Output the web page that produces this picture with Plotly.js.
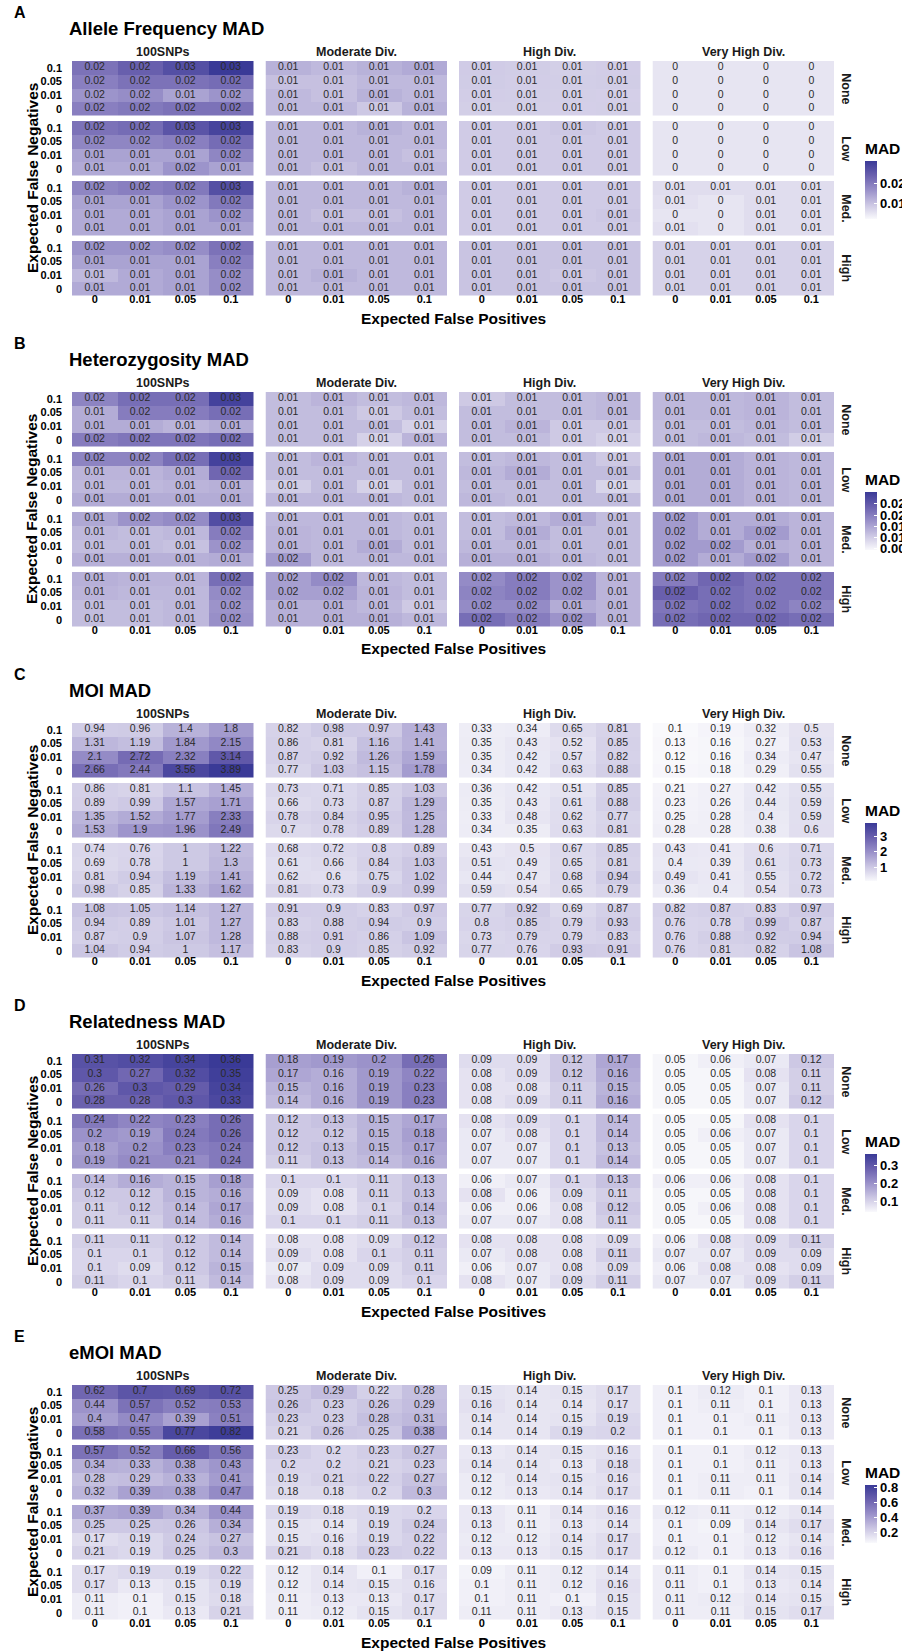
<!DOCTYPE html>
<html><head><meta charset="utf-8">
<script src="https://cdn.plot.ly/plotly-3.0.1.min.js"></script>
<style>html,body{margin:0;padding:0;background:#fff}</style>
</head><body><div id="chart" style="width:902px;height:1652px"></div>
<script>
// ---------- categories ----------
const falsePositives = ["0", "0.01", "0.05", "0.1"];          // x within a facet
const falseNegativesBottomUp = ["0", "0.01", "0.05", "0.1"];  // y within a facet (bottom -> top)
const diversityLevels = ["100SNPs", "Moderate Div.", "High Div.", "Very High Div."];
const noiseLevels = ["None", "Low", "Med.", "High"];
const panelLetters = ["A", "B", "C", "D", "E"];
const panelTitles = ["Allele Frequency MAD", "Heterozygosity MAD", "MOI MAD", "Relatedness MAD", "eMOI MAD"];
const legendTicks = [[0.01, 0.02], [0.005, 0.01, 0.015, 0.02, 0.025], [1, 2, 3], [0.1, 0.2, 0.3], [0.2, 0.4, 0.6, 0.8]];
const legendRanges = [[0.002, 0.031], [0.0044, 0.0303], [0.1, 3.89], [0.045, 0.36], [0.066, 0.836]];

// Each array: 16 rows (noise None, Low, Med., High; each with FN 0.1, 0.05, 0.01, 0 from top)
// x 16 columns (100SNPs, Moderate, High, Very High; each with FP 0, 0.01, 0.05, 0.1)
const alleleFrequencyMAD = [
[0.021,0.024,0.027,0.031, 0.012,0.011,0.012,0.013, 0.0085,0.0083,0.008,0.0082, 0.0048,0.0048,0.0048,0.0048],
[0.019,0.021,0.021,0.022, 0.010,0.010,0.011,0.011, 0.0084,0.0082,0.0081,0.0083, 0.0048,0.0048,0.0048,0.0048],
[0.016,0.017,0.014,0.016, 0.011,0.010,0.012,0.011, 0.0082,0.0081,0.008,0.0079, 0.0048,0.0048,0.0048,0.0048],
[0.019,0.020,0.021,0.021, 0.011,0.011,0.009,0.012, 0.008,0.008,0.0079,0.008, 0.0048,0.0048,0.0048,0.0048],
[0.021,0.022,0.026,0.029, 0.011,0.011,0.012,0.011, 0.0085,0.0085,0.009,0.0085, 0.0048,0.0048,0.0048,0.0048],
[0.018,0.018,0.019,0.022, 0.011,0.011,0.011,0.011, 0.0085,0.0085,0.0085,0.0085, 0.0048,0.0048,0.0048,0.0048],
[0.014,0.014,0.014,0.018, 0.011,0.011,0.011,0.010, 0.0085,0.0085,0.0085,0.0085, 0.0048,0.0048,0.0048,0.0048],
[0.013,0.013,0.016,0.014, 0.011,0.010,0.011,0.011, 0.0085,0.0085,0.0085,0.0085, 0.0048,0.0048,0.0048,0.0048],
[0.018,0.019,0.020,0.027, 0.011,0.011,0.011,0.012, 0.0085,0.0085,0.0085,0.0085, 0.006,0.006,0.006,0.006],
[0.014,0.014,0.016,0.020, 0.011,0.011,0.011,0.011, 0.0085,0.0085,0.0085,0.0085, 0.0055,0.0048,0.006,0.006],
[0.013,0.013,0.014,0.016, 0.011,0.010,0.010,0.011, 0.0085,0.0085,0.0085,0.009, 0.0048,0.0048,0.006,0.006],
[0.013,0.013,0.014,0.014, 0.011,0.011,0.011,0.011, 0.0085,0.0085,0.0085,0.0085, 0.0055,0.0048,0.006,0.006],
[0.016,0.016,0.017,0.021, 0.011,0.011,0.011,0.011, 0.0095,0.0095,0.0095,0.0095, 0.0075,0.0075,0.0075,0.0075],
[0.014,0.014,0.014,0.019, 0.011,0.011,0.011,0.011, 0.0095,0.0095,0.0095,0.0095, 0.0075,0.0075,0.0075,0.0075],
[0.011,0.013,0.014,0.017, 0.011,0.012,0.011,0.011, 0.0095,0.0095,0.009,0.0095, 0.0075,0.0075,0.0075,0.0075],
[0.013,0.013,0.014,0.017, 0.011,0.011,0.011,0.011, 0.0095,0.0095,0.0095,0.0095, 0.0075,0.0075,0.0075,0.0075]
];
const heterozygosityMAD = [
[0.019,0.022,0.022,0.029, 0.012,0.013,0.012,0.0125, 0.0105,0.012,0.012,0.0125, 0.0125,0.0125,0.013,0.012],
[0.014,0.020,0.020,0.022, 0.012,0.012,0.0105,0.012, 0.012,0.012,0.012,0.0125, 0.0125,0.0125,0.013,0.012],
[0.014,0.014,0.013,0.014, 0.012,0.012,0.012,0.0095, 0.012,0.013,0.0105,0.0105, 0.012,0.012,0.0125,0.012],
[0.020,0.021,0.021,0.022, 0.012,0.012,0.0095,0.013, 0.012,0.012,0.0105,0.0095, 0.012,0.0125,0.012,0.010],
[0.019,0.019,0.022,0.029, 0.012,0.013,0.012,0.012, 0.012,0.0125,0.012,0.0105, 0.014,0.014,0.013,0.0125],
[0.013,0.013,0.014,0.023, 0.012,0.012,0.012,0.012, 0.0125,0.014,0.012,0.012, 0.014,0.014,0.013,0.0125],
[0.0125,0.0125,0.013,0.0135, 0.010,0.012,0.0095,0.012, 0.012,0.012,0.012,0.009, 0.014,0.014,0.013,0.0125],
[0.014,0.014,0.014,0.014, 0.0125,0.0125,0.0125,0.012, 0.0125,0.012,0.012,0.012, 0.014,0.014,0.013,0.0125],
[0.0145,0.017,0.018,0.027, 0.0125,0.0125,0.0125,0.012, 0.012,0.0125,0.014,0.012, 0.016,0.014,0.014,0.013],
[0.0125,0.012,0.0125,0.020, 0.013,0.0125,0.0125,0.012, 0.012,0.014,0.012,0.012, 0.016,0.014,0.016,0.013],
[0.012,0.012,0.0115,0.017, 0.013,0.0125,0.014,0.012, 0.0125,0.0125,0.012,0.012, 0.016,0.016,0.0135,0.013],
[0.0135,0.0135,0.0135,0.014, 0.016,0.0125,0.0125,0.0125, 0.0135,0.0135,0.0125,0.012, 0.016,0.014,0.016,0.013],
[0.0135,0.013,0.013,0.022, 0.0155,0.018,0.0125,0.012, 0.018,0.020,0.017,0.013, 0.020,0.023,0.021,0.021],
[0.013,0.0125,0.0125,0.018, 0.0155,0.0155,0.013,0.012, 0.019,0.020,0.017,0.013, 0.024,0.022,0.021,0.021],
[0.012,0.012,0.0125,0.017, 0.0135,0.0135,0.0125,0.0105, 0.018,0.018,0.014,0.013, 0.021,0.022,0.021,0.019],
[0.012,0.012,0.0125,0.0175, 0.0135,0.0135,0.0135,0.0125, 0.022,0.020,0.017,0.013, 0.022,0.023,0.023,0.022]
];
const moiMAD = [
[0.94,0.96,1.4,1.8, 0.82,0.98,0.97,1.43, 0.33,0.34,0.65,0.81, 0.1,0.19,0.32,0.5],
[1.31,1.19,1.84,2.15, 0.86,0.81,1.16,1.41, 0.35,0.43,0.52,0.85, 0.13,0.16,0.27,0.53],
[2.1,2.72,2.32,3.14, 0.87,0.92,1.26,1.59, 0.35,0.42,0.57,0.82, 0.12,0.16,0.34,0.47],
[2.66,2.44,3.56,3.89, 0.77,1.03,1.15,1.78, 0.34,0.42,0.63,0.88, 0.15,0.18,0.29,0.55],
[0.86,0.81,1.1,1.45, 0.73,0.71,0.85,1.03, 0.36,0.42,0.51,0.85, 0.21,0.27,0.42,0.55],
[0.89,0.99,1.57,1.71, 0.66,0.73,0.87,1.29, 0.35,0.43,0.61,0.88, 0.23,0.26,0.44,0.59],
[1.35,1.52,1.77,2.33, 0.78,0.84,0.95,1.25, 0.33,0.48,0.62,0.77, 0.25,0.28,0.4,0.59],
[1.53,1.9,1.96,2.49, 0.7,0.78,0.89,1.28, 0.34,0.35,0.63,0.81, 0.28,0.28,0.38,0.6],
[0.74,0.76,1,1.22, 0.68,0.72,0.8,0.89, 0.43,0.5,0.67,0.85, 0.43,0.41,0.6,0.71],
[0.69,0.78,1,1.3, 0.61,0.66,0.84,1.03, 0.51,0.49,0.65,0.81, 0.4,0.39,0.61,0.73],
[0.81,0.94,1.19,1.41, 0.62,0.6,0.75,1.02, 0.44,0.47,0.68,0.94, 0.49,0.41,0.55,0.72],
[0.98,0.85,1.33,1.62, 0.81,0.73,0.9,0.99, 0.59,0.54,0.65,0.79, 0.36,0.4,0.54,0.73],
[1.08,1.05,1.14,1.27, 0.91,0.9,0.83,0.97, 0.77,0.92,0.69,0.87, 0.82,0.87,0.83,0.97],
[0.94,0.89,1.01,1.27, 0.83,0.88,0.94,0.9, 0.8,0.85,0.79,0.93, 0.76,0.78,0.99,0.87],
[0.87,0.9,1.07,1.28, 0.88,0.91,0.86,1.09, 0.73,0.79,0.79,0.83, 0.76,0.88,0.92,0.94],
[1.04,0.94,1,1.17, 0.83,0.9,0.85,0.92, 0.77,0.76,0.93,0.91, 0.76,0.81,0.82,1.08]
];
const relatednessMAD = [
[0.31,0.32,0.34,0.36, 0.18,0.19,0.2,0.26, 0.09,0.09,0.12,0.17, 0.05,0.06,0.07,0.12],
[0.3,0.27,0.32,0.35, 0.17,0.16,0.19,0.22, 0.08,0.09,0.12,0.16, 0.05,0.05,0.08,0.11],
[0.26,0.3,0.29,0.34, 0.15,0.16,0.19,0.23, 0.08,0.08,0.11,0.15, 0.05,0.05,0.07,0.11],
[0.28,0.28,0.3,0.33, 0.14,0.16,0.19,0.23, 0.08,0.09,0.11,0.16, 0.05,0.05,0.07,0.12],
[0.24,0.22,0.23,0.26, 0.12,0.13,0.15,0.17, 0.08,0.09,0.1,0.14, 0.05,0.05,0.08,0.1],
[0.2,0.19,0.24,0.26, 0.12,0.12,0.15,0.18, 0.07,0.08,0.1,0.14, 0.05,0.06,0.07,0.1],
[0.18,0.2,0.23,0.24, 0.12,0.13,0.15,0.17, 0.07,0.07,0.1,0.13, 0.05,0.05,0.07,0.1],
[0.19,0.21,0.21,0.24, 0.11,0.13,0.14,0.16, 0.07,0.07,0.1,0.14, 0.05,0.05,0.07,0.1],
[0.14,0.16,0.15,0.18, 0.1,0.1,0.11,0.13, 0.06,0.07,0.1,0.13, 0.06,0.06,0.08,0.1],
[0.12,0.12,0.15,0.16, 0.09,0.08,0.11,0.13, 0.08,0.06,0.09,0.11, 0.05,0.05,0.08,0.1],
[0.11,0.12,0.14,0.17, 0.09,0.08,0.1,0.14, 0.06,0.06,0.08,0.12, 0.05,0.06,0.08,0.1],
[0.11,0.11,0.14,0.16, 0.1,0.1,0.11,0.13, 0.07,0.07,0.08,0.11, 0.05,0.05,0.08,0.1],
[0.11,0.11,0.12,0.14, 0.08,0.08,0.09,0.12, 0.08,0.08,0.08,0.09, 0.06,0.08,0.09,0.11],
[0.1,0.1,0.12,0.14, 0.09,0.08,0.1,0.11, 0.07,0.08,0.08,0.11, 0.07,0.07,0.09,0.09],
[0.1,0.09,0.12,0.15, 0.07,0.09,0.09,0.11, 0.06,0.07,0.08,0.09, 0.06,0.08,0.08,0.09],
[0.11,0.1,0.11,0.14, 0.08,0.09,0.09,0.1, 0.08,0.07,0.09,0.11, 0.07,0.07,0.09,0.11]
];
const emoiMAD = [
[0.62,0.7,0.69,0.72, 0.25,0.29,0.22,0.28, 0.15,0.14,0.15,0.17, 0.1,0.12,0.1,0.13],
[0.44,0.57,0.52,0.53, 0.26,0.23,0.26,0.29, 0.16,0.14,0.14,0.17, 0.1,0.11,0.1,0.13],
[0.4,0.47,0.39,0.51, 0.23,0.23,0.28,0.31, 0.14,0.14,0.15,0.19, 0.1,0.1,0.11,0.13],
[0.58,0.55,0.77,0.82, 0.21,0.26,0.25,0.38, 0.14,0.14,0.19,0.2, 0.1,0.1,0.1,0.13],
[0.57,0.52,0.66,0.56, 0.23,0.2,0.23,0.27, 0.13,0.14,0.15,0.16, 0.1,0.1,0.12,0.13],
[0.34,0.33,0.38,0.43, 0.2,0.2,0.21,0.23, 0.14,0.14,0.13,0.18, 0.1,0.1,0.11,0.13],
[0.28,0.29,0.33,0.41, 0.19,0.21,0.22,0.27, 0.12,0.14,0.15,0.16, 0.1,0.11,0.11,0.14],
[0.32,0.39,0.38,0.47, 0.18,0.18,0.2,0.3, 0.12,0.13,0.14,0.17, 0.1,0.11,0.1,0.14],
[0.37,0.39,0.34,0.44, 0.19,0.18,0.19,0.2, 0.13,0.11,0.14,0.16, 0.12,0.11,0.12,0.14],
[0.25,0.25,0.26,0.34, 0.15,0.14,0.19,0.24, 0.13,0.11,0.13,0.14, 0.1,0.09,0.14,0.17],
[0.17,0.19,0.24,0.27, 0.15,0.16,0.19,0.22, 0.12,0.12,0.14,0.17, 0.1,0.1,0.12,0.14],
[0.21,0.19,0.25,0.3, 0.21,0.18,0.23,0.22, 0.13,0.13,0.15,0.17, 0.12,0.1,0.13,0.16],
[0.17,0.19,0.19,0.22, 0.12,0.14,0.1,0.17, 0.09,0.11,0.12,0.14, 0.11,0.1,0.14,0.15],
[0.17,0.13,0.15,0.19, 0.12,0.14,0.15,0.16, 0.1,0.11,0.12,0.16, 0.11,0.1,0.13,0.14],
[0.11,0.1,0.15,0.18, 0.11,0.13,0.13,0.17, 0.1,0.11,0.1,0.15, 0.11,0.12,0.14,0.15],
[0.11,0.1,0.13,0.21, 0.11,0.12,0.15,0.17, 0.11,0.11,0.13,0.15, 0.11,0.11,0.15,0.17]
];
const panels = [alleleFrequencyMAD, heterozygosityMAD, moiMAD, relatednessMAD, emoiMAD];

// ---------- styling / geometry ----------
const W = 902, H = 1652;
const FONT = "Liberation Sans, Arial, Helvetica, sans-serif";
const colorscale = [[0, '#f9f9fc'], [0.25, '#cbc6e3'], [0.5, '#9990c9'], [0.75, '#6a60ae'], [1, '#3a3a97']];
const colX0 = 72, colW = 181.5, colStep = 193.5;
const panelTop0 = 61, panelStep = 331, rowH = 54.5, rowStep = 60, panelH = 234;
const px = v => v / W, py = v => 1 - v / H;
const fmt = v => String(Math.round(v * 100) / 100);

const data = [];
const layout = {
  width: W, height: H, margin: {l: 0, r: 0, t: 0, b: 0, autoexpand: false},
  paper_bgcolor: '#fff', plot_bgcolor: '#fff', showlegend: false,
  font: {family: FONT, color: '#1a1a1a'}, annotations: []
};

panels.forEach((vals, p) => {
  const top = panelTop0 + p * panelStep;
  const caName = 'coloraxis' + (p ? p + 1 : '');
  layout[caName] = {
    colorscale: colorscale, cmin: legendRanges[p][0], cmax: legendRanges[p][1],
    colorbar: {
      x: px(865), xanchor: 'left', y: py(top + 158), yanchor: 'bottom',
      len: 80, lenmode: 'pixels', thickness: 12, thicknessmode: 'pixels',
      outlinewidth: 0, xpad: 0, ypad: 0,
      ticks: 'inside', ticklen: 3, tickcolor: '#ffffff', tickwidth: 1,
      tickvals: legendTicks[p],
      tickfont: {family: FONT, size: 13, weight: 'bold', color: '#000'},
      title: {text: 'MAD', side: 'top', font: {family: FONT, size: 15.5, weight: 'bold', color: '#000'}}
    }
  };
  for (let r = 0; r < 4; r++) {
    for (let c = 0; c < 4; c++) {
      const k = p * 16 + r * 4 + c + 1;
      const sfx = k === 1 ? '' : String(k);
      const z = [], tx = [], ty = [], tt = [];
      for (let yi = 0; yi < 4; yi++) {
        const row = vals[r * 4 + (3 - yi)].slice(c * 4, c * 4 + 4);
        z.push(row);
        row.forEach((v, xi) => { tx.push(falsePositives[xi]); ty.push(falseNegativesBottomUp[yi]); tt.push(fmt(v)); });
      }
      data.push({
        type: 'heatmap', x: falsePositives, y: falseNegativesBottomUp, z: z,
        coloraxis: caName, xaxis: 'x' + sfx, yaxis: 'y' + sfx, hoverinfo: 'skip', xgap: 0, ygap: 0
      });
      data.push({
        type: 'scatter', mode: 'text', x: tx, y: ty, text: tt, textposition: 'middle center',
        textfont: {family: FONT, size: 10.5, color: '#2a2a2a'}, xaxis: 'x' + sfx, yaxis: 'y' + sfx,
        hoverinfo: 'skip', cliponaxis: false
      });
      const x0 = colX0 + c * colStep, yt = top + r * rowStep;
      layout['xaxis' + sfx] = {
        domain: [px(x0), px(x0 + colW)], anchor: 'y' + sfx, type: 'category',
        categoryorder: 'array', categoryarray: falsePositives, range: [-0.5, 3.5],
        showgrid: false, zeroline: false, showline: false, ticks: '', fixedrange: true,
        showticklabels: r === 3, ticklabelstandoff: -5, automargin: false,
        tickfont: {family: FONT, size: 11, weight: 'bold', color: '#000'}
      };
      layout['yaxis' + sfx] = {
        domain: [py(yt + rowH), py(yt)], anchor: 'x' + sfx, type: 'category',
        categoryorder: 'array', categoryarray: falseNegativesBottomUp, range: [-0.5, 3.5],
        showgrid: false, zeroline: false, showline: false, ticks: '', fixedrange: true,
        showticklabels: c === 0, ticklabelstandoff: 9, automargin: false,
        tickfont: {family: FONT, size: 11, weight: 'bold', color: '#000'}
      };
    }
  }
  const ann = layout.annotations;
  const common = {xref: 'paper', yref: 'paper', showarrow: false};
  ann.push(Object.assign({text: '<b>' + panelLetters[p] + '</b>', x: px(12), xanchor: 'left', y: py(top - 48.5), yanchor: 'middle',
    font: {family: FONT, size: 16, color: '#000'}}, common));
  ann.push(Object.assign({text: '<b>' + panelTitles[p] + '</b>', x: px(67), xanchor: 'left', y: py(top - 32.5), yanchor: 'middle',
    font: {family: FONT, size: 18.5, color: '#000'}}, common));
  diversityLevels.forEach((d, c) => ann.push(Object.assign({text: '<b>' + d + '</b>', x: px(colX0 + c * colStep + colW / 2), xanchor: 'center',
    y: py(top - 9), yanchor: 'middle', font: {family: FONT, size: 12.5, color: '#1a1a1a'}}, common)));
  noiseLevels.forEach((n, r) => ann.push(Object.assign({text: '<b>' + n + '</b>', x: px(846), xanchor: 'center',
    y: py(top + r * rowStep + rowH / 2), yanchor: 'middle', textangle: 90, font: {family: FONT, size: 12.5, color: '#1a1a1a'}}, common)));
  ann.push(Object.assign({text: '<b>Expected False Positives</b>', x: px(453), xanchor: 'center', y: py(top + panelH + 23), yanchor: 'middle',
    font: {family: FONT, size: 15.5, color: '#000'}}, common));
  ann.push(Object.assign({text: '<b>Expected False Negatives</b>', x: px(32), xanchor: 'center', y: py(top + 117), yanchor: 'middle',
    textangle: -90, font: {family: FONT, size: 15.5, color: '#000'}}, common));
});

Plotly.newPlot('chart', data, layout, {displayModeBar: false, staticPlot: true});
</script></body></html>
